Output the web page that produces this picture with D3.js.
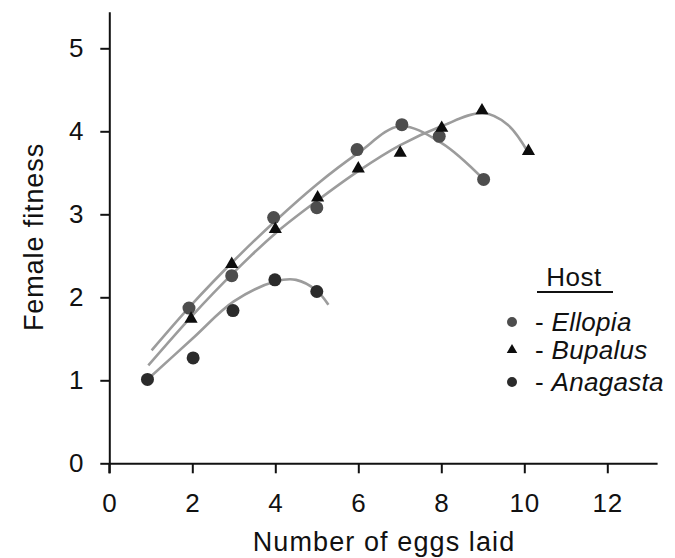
<!DOCTYPE html>
<html>
<head>
<meta charset="utf-8">
<script src="https://cdn.jsdelivr.net/npm/d3@7"></script>
<style>
  body { margin: 0; background: #fff; }
  text { font-family: "Liberation Sans", Arial, Helvetica, sans-serif; }
</style>
</head>
<body>
<div id="chart"></div>
<script>
// Host species
const hosts = ["Ellopia", "Bupalus", "Anagasta"];

// Observed points (number of eggs laid -> female fitness)
const ellopiaEggs = [1.92, 2.95, 3.96, 5.0, 5.97, 7.05, 7.95, 9.02];
const ellopiaFitness = [1.87, 2.26, 2.96, 3.08, 3.78, 4.08, 3.94, 3.42];
const bupalusEggs = [1.97, 2.95, 4.0, 5.02, 6.0, 7.01, 8.01, 8.98, 10.1];
const bupalusFitness = [1.74, 2.40, 2.82, 3.20, 3.55, 3.74, 4.04, 4.25, 3.76];
const anagastaEggs = [0.92, 2.02, 2.98, 3.99, 5.0];
const anagastaFitness = [1.01, 1.27, 1.84, 2.21, 2.07];

// Fitted curves
const ellopiaCurveEggs = [1.02, 2, 3, 4, 5, 6, 7, 8, 9.02];
const ellopiaCurveFitness = [1.36, 1.92, 2.44, 2.92, 3.36, 3.74, 4.06, 3.86, 3.42];
const bupalusCurveEggs = [0.94, 2, 3, 4, 5, 6, 7, 8, 9, 9.6, 10.1];
const bupalusCurveFitness = [1.18, 1.78, 2.30, 2.77, 3.16, 3.52, 3.83, 4.06, 4.22, 4.08, 3.74];
const anagastaCurveEggs = [0.92, 2, 3, 4, 4.5, 5, 5.28];
const anagastaCurveFitness = [1.01, 1.50, 1.95, 2.19, 2.21, 2.08, 1.91];

const xTicks = [0, 2, 4, 6, 8, 10, 12];
const yTicks = [0, 1, 2, 3, 4, 5];

const zip = (xs, ys) => xs.map((x, i) => ({ x: x, y: ys[i] }));

const series = [
  { host: hosts[0], shape: "circle", color: "#4d4d4d",
    points: zip(ellopiaEggs, ellopiaFitness), curve: zip(ellopiaCurveEggs, ellopiaCurveFitness) },
  { host: hosts[1], shape: "triangle", color: "#0d0d0d",
    points: zip(bupalusEggs, bupalusFitness), curve: zip(bupalusCurveEggs, bupalusCurveFitness) },
  { host: hosts[2], shape: "circle", color: "#2b2b2b",
    points: zip(anagastaEggs, anagastaFitness), curve: zip(anagastaCurveEggs, anagastaCurveFitness) }
];

const W = 675, H = 558;
const x0 = 109.3, yBase = 463.3;

const svg = d3.select("#chart")
  .append("svg")
  .attr("width", W)
  .attr("height", H);

const x = d3.scaleLinear().domain([0, 13.2]).range([x0, x0 + 41.5 * 13.2]);
const y = d3.scaleLinear().domain([0, 5.44]).range([yBase, yBase - 83 * 5.44]);

// Axes
const xAxis = svg.append("g")
  .attr("transform", `translate(0, ${yBase})`)
  .call(d3.axisBottom(x).tickValues(xTicks).tickSize(10).tickPadding(20).tickSizeOuter(0));
const yAxis = svg.append("g")
  .attr("transform", `translate(${x0}, 0)`)
  .call(d3.axisLeft(y).tickValues(yTicks).tickFormat(d3.format("d"))
    .tickSize(9).tickPadding(16).tickSizeOuter(0));

[xAxis, yAxis].forEach(a => {
  a.select(".domain").attr("stroke", "#111").attr("stroke-width", 2);
  a.selectAll(".tick line").attr("stroke", "#111").attr("stroke-width", 2);
  a.selectAll(".tick text")
    .attr("fill", "#111")
    .style("font-size", "26px")
    .style("letter-spacing", "0.8px");
});
// y axis runs a little below the x axis
svg.append("line")
  .attr("x1", x0).attr("x2", x0)
  .attr("y1", yBase).attr("y2", yBase + 10)
  .attr("stroke", "#111").attr("stroke-width", 2);

// Axis titles
svg.append("text")
  .attr("x", 384)
  .attr("y", 551)
  .attr("text-anchor", "middle")
  .style("font-size", "27px")
  .style("letter-spacing", "1.1px")
  .attr("fill", "#111")
  .text("Number of eggs laid");

svg.append("text")
  .attr("transform", "translate(43, 237) rotate(-90)")
  .attr("text-anchor", "middle")
  .style("font-size", "27px")
  .style("letter-spacing", "0.9px")
  .attr("fill", "#111")
  .text("Female fitness");

// Fitted curves
const line = d3.line()
  .x(d => x(d.x))
  .y(d => y(d.y))
  .curve(d3.curveCatmullRom.alpha(0.5));

svg.append("g")
  .selectAll("path")
  .data(series)
  .enter()
  .append("path")
  .attr("d", d => line(d.curve))
  .attr("fill", "none")
  .attr("stroke", "#9c9c9c")
  .attr("stroke-width", 2.6);

// Points
const tri = d3.symbol().type(d3.symbolTriangle);

series.forEach(s => {
  const g = svg.append("g");
  if (s.shape === "circle") {
    g.selectAll("circle")
      .data(s.points)
      .enter()
      .append("circle")
      .attr("cx", d => x(d.x))
      .attr("cy", d => y(d.y))
      .attr("r", 6.5)
      .attr("fill", s.color);
  } else {
    g.selectAll("path")
      .data(s.points)
      .enter()
      .append("path")
      .attr("d", tri.size(75))
      .attr("transform", d => `translate(${x(d.x)}, ${y(d.y)})`)
      .attr("fill", s.color);
  }
});

// Legend
const legend = svg.append("g");
legend.append("text")
  .attr("x", 574)
  .attr("y", 286)
  .attr("text-anchor", "middle")
  .style("font-size", "26px")
  .style("letter-spacing", "0.5px")
  .attr("fill", "#111")
  .text("Host");
legend.append("line")
  .attr("x1", 537).attr("x2", 613)
  .attr("y1", 292).attr("y2", 292)
  .attr("stroke", "#111").attr("stroke-width", 2);

const rowY = [322, 350, 382];
series.forEach((s, i) => {
  const g = legend.append("g").attr("transform", `translate(512, ${rowY[i]})`);
  if (s.shape === "circle") {
    g.append("circle").attr("r", 5).attr("fill", s.color);
  } else {
    g.append("path").attr("d", d3.symbol().type(d3.symbolTriangle).size(48)()).attr("fill", s.color);
  }
  g.append("text")
    .attr("x", 23)
    .attr("y", 9)
    .style("font-size", "26px")
    .style("letter-spacing", "0.3px")
    .attr("fill", "#111")
    .text("- ")
    .append("tspan")
    .style("font-style", "italic")
    .text(s.host);
});
</script>
</body>
</html>
